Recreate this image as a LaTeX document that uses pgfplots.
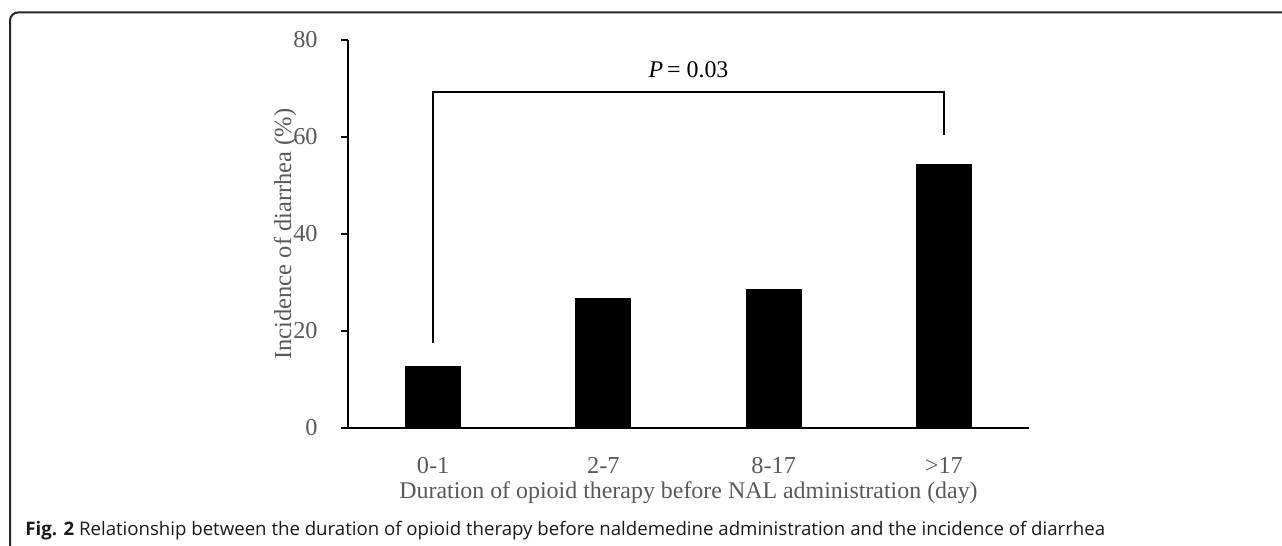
\documentclass[border=0pt]{standalone}
\usepackage{pgfplots}
\pgfplotsset{compat=1.18}
\usepackage{fontspec}
\setmainfont{Liberation Serif}
\newfontfamily\capfont{Open Sans}
\definecolor{txt}{HTML}{595959}
\begin{document}
\begin{tikzpicture}
\useasboundingbox (0,0) rectangle (641bp,273bp);
\draw[line width=1bp, color=black!85] (5bp,-1bp) -- (5bp,262.75bp) arc[start angle=180, end angle=90, radius=4bp] -- (642bp,266.75bp);
\begin{axis}[
  at={(174bp,59bp)}, anchor=south west, scale only axis,
  width=340.5bp, height=194bp,
  xmin=-0.5, xmax=3.5, ymin=0, ymax=80,
  clip=false,
  axis lines=left,
  axis line style={-, line width=0.9bp, black},
  xtick={0,1,2,3},
  xticklabels={0-1,2-7,8-17,>17},
  x tick style={draw=none},
  ytick={0,20,40,60,80},
  tick align=outside,
  major tick length=3.5bp,
  y tick style={black, line width=0.9bp},
  /pgf/number format/assume math mode=true,
  xticklabel style={font=\fontsize{12.2}{14}\selectfont, text=txt, anchor=base, yshift=-19.3bp},
  yticklabel style={font=\fontsize{12.2}{14}\selectfont, text=txt, anchor=east, inner sep=0pt, xshift=-11.5bp},
  xlabel={Duration of opioid therapy before NAL administration (day)},
  ylabel={Incidence of diarrhea (\%)},
  every axis x label/.style={at={(rel axis cs:0.5,0)}, anchor=base, yshift=-35.5bp, font=\fontsize{12}{14}\selectfont, text=txt},
  every axis y label/.style={at={(rel axis cs:0,0.5)}, anchor=center, xshift=-31.5bp, rotate=90, font=\fontsize{12.3}{14}\selectfont, text=txt},
]
\addplot[ybar, bar width=27.5bp, fill=black, draw=black] coordinates {(0,12.6) (1,26.8) (2,28.6) (3,54.3)};
\draw[black, line width=0.7bp] (axis cs:0,17.6) -- (axis cs:0,69.3) -- (axis cs:3,69.3) -- (axis cs:3,60.5);
\node[anchor=base, font=\fontsize{12}{14}\selectfont, text=black] at (axis cs:1.5,72.2) {\textit{P}\,= 0.03};
\end{axis}
\node[anchor=base west, inner sep=0pt, text=black!90] at (12.5bp,5.5bp) {\capfont\fontsize{9.35}{11}\selectfont\textbf{Fig. 2} Relationship between the duration of opioid therapy before naldemedine administration and the incidence of diarrhea};
\end{tikzpicture}
\end{document}
